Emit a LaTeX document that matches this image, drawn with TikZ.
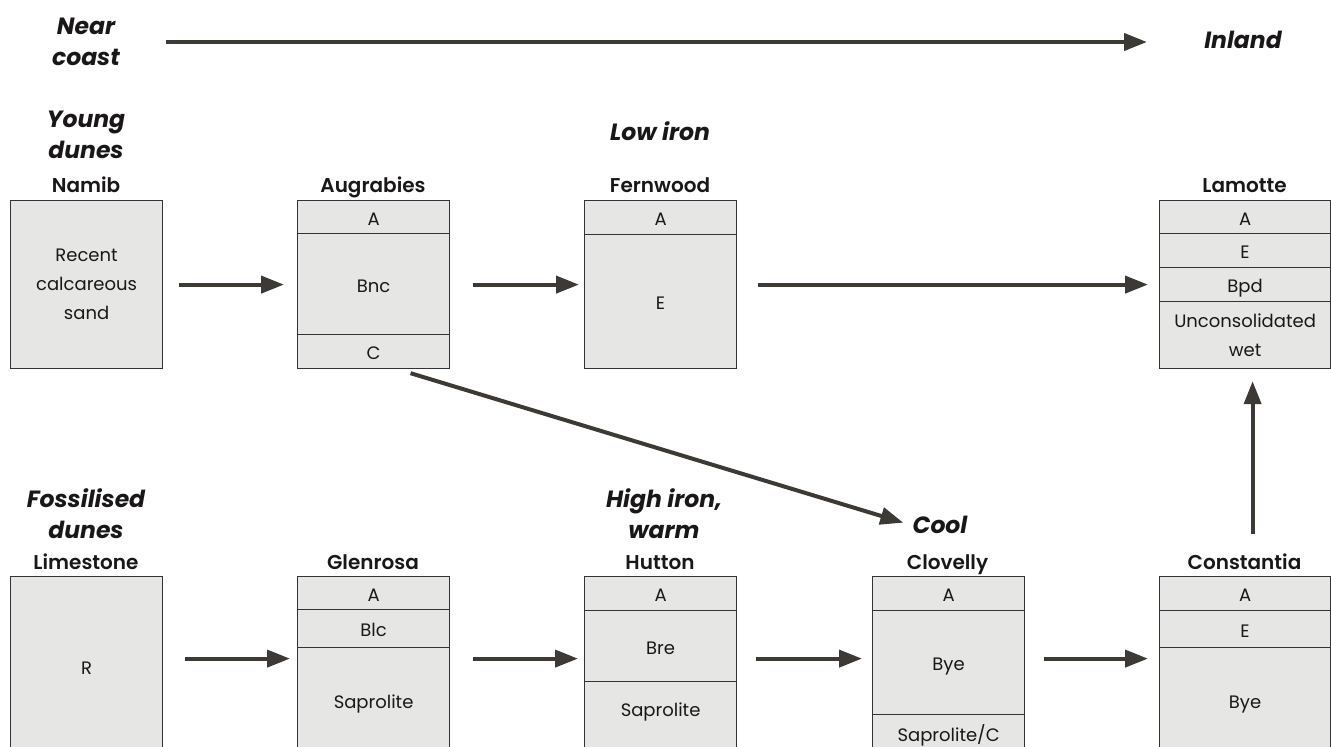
\documentclass[tikz,border=0pt]{standalone}
\usepackage{fontspec}
\setmainfont{Poppins}
\newfontfamily\namefont{Poppins SemiBold}
\usepackage{tikz}
\usetikzlibrary{arrows.meta,positioning,calc}
\definecolor{soilfill}{HTML}{E6E6E5}
\definecolor{soilline}{HTML}{333333}
\definecolor{arrowgray}{HTML}{3D3A36}
\definecolor{textdark}{HTML}{1A1717}

\begin{document}
\begin{tikzpicture}[x=1pt, y=-1pt,
        layer/.style={draw=soilline, fill=soilfill, line width=1.2pt, inner sep=0pt,
            anchor=north west, minimum width=152pt, align=center, text=textdark,
            font=\fontsize{18}{29}\selectfont},
        horizon/.style={layer, text height=16pt, text depth=0pt},
        frame/.style={draw=soilline, line width=1.2pt, inner sep=0pt,
            anchor=north west, minimum width=152pt},
        soilname/.style={font=\namefont\fontsize{20}{22}\selectfont, text=textdark, anchor=base},
        heading/.style={font=\bfseries\itshape\fontsize{23.5}{31}\selectfont, text=textdark, align=center},
        flow/.style={-{Triangle[length=23pt,width=17pt]}, line width=4pt, draw=arrowgray}]
    \useasboundingbox (0,0) rectangle (1331,747);
    \clip (0,0) rectangle (1331,747);

    % Gradient from the coast inland
    \node[heading] (nearcoast) at (86,42) {Near\\coast};
    \node[heading, anchor=base] (inland) at (1243,48) {Inland};
    \coordinate (coast-end) at (166,42);
    \coordinate (inland-end) at (1147,42);
    \draw[flow] (coast-end) -- (inland-end);

    % Young dunes (top row)
    \node[heading] (young) at (86,135) {Young\\dunes};
    \node[heading, anchor=base] (lowiron) at (660,140) {Low iron};

    \node[layer, minimum height=168pt] (namib) at (10,200) {Recent\\calcareous\\sand};
    \node[soilname] (namib-name) at (86,192) {Namib};

    \node[horizon, minimum height=33pt] (aug-a) at (297,200) {A};
    \node[horizon, minimum height=101pt] (aug-bnc) at (297,233) {Bnc};
    \node[horizon, minimum height=34pt] (aug-c) at (297,334) {C};
    \node[frame, minimum height=168pt] (augrabies) at (297,200) {};
    \node[soilname] (aug-name) at (373,192) {Augrabies};

    \node[horizon, minimum height=34pt] (fern-a) at (584,200) {A};
    \node[horizon, minimum height=134pt] (fern-e) at (584,234) {E};
    \node[frame, minimum height=168pt] (fernwood) at (584,200) {};
    \node[soilname] (fern-name) at (660,192) {Fernwood};

    \node[horizon, minimum width=171pt, minimum height=33pt] (lam-a) at (1159,200) {A};
    \node[horizon, minimum width=171pt, minimum height=34pt] (lam-e) at (1159,233) {E};
    \node[horizon, minimum width=171pt, minimum height=34pt] (lam-bpd) at (1159,267) {Bpd};
    \node[layer, minimum width=171pt, minimum height=67pt] (lam-wet) at (1159,301) {Unconsolidated\\wet};
    \node[frame, minimum width=171pt, minimum height=168pt] (lamotte) at (1159,200) {};
    \node[soilname] (lam-name) at (1244.5,192) {Lamotte};

    \draw[flow, shorten <=16pt, shorten >=13pt] (namib) -- (augrabies);
    \draw[flow, shorten <=23pt, shorten >=5pt] (augrabies) -- (fernwood);
    \draw[flow, shorten <=21pt, shorten >=11pt] (fernwood) -- (lamotte);

    % Fossilised dunes (bottom row)
    \node[heading] (fossil) at (86,514) {Fossilised\\dunes};
    \node[heading] (highiron) at (664,514) {High iron,\\warm};
    \node[heading, anchor=base] (cool) at (940,533) {Cool};

    \node[horizon, minimum height=186pt, text depth=6pt] (limestone) at (10,576) {R};
    \node[soilname] (lime-name) at (86,569) {Limestone};

    \node[horizon, minimum height=33pt] (glen-a) at (297,576) {A};
    \node[horizon, minimum height=38pt] (glen-blc) at (297,609) {Blc};
    \node[horizon, minimum height=115pt, text depth=9pt] (glen-sap) at (297,647) {Saprolite};
    \node[frame, minimum height=186pt] (glenrosa) at (297,576) {};
    \node[soilname] (glen-name) at (373,569) {Glenrosa};

    \node[horizon, minimum height=34pt] (hut-a) at (584,576) {A};
    \node[horizon, minimum height=71pt] (hut-bre) at (584,610) {Bre};
    \node[horizon, minimum height=81pt, text depth=27pt] (hut-sap) at (584,681) {Saprolite};
    \node[frame, minimum height=186pt] (hutton) at (584,576) {};
    \node[soilname] (hut-name) at (660,569) {Hutton};

    \node[horizon, minimum height=34pt] (clo-a) at (872,576) {A};
    \node[horizon, minimum height=104pt] (clo-bye) at (872,610) {Bye};
    \node[horizon, minimum height=48pt, text depth=10pt] (clo-sap) at (872,714) {Saprolite/C};
    \node[frame, minimum height=186pt] (clovelly) at (872,576) {};
    \node[soilname] (clo-name) at (947.5,569) {Clovelly};

    \node[horizon, minimum width=171pt, minimum height=34pt] (con-a) at (1159,576) {A};
    \node[horizon, minimum width=171pt, minimum height=37pt] (con-e) at (1159,610) {E};
    \node[horizon, minimum width=171pt, minimum height=115pt, text depth=9pt] (con-bye) at (1159,647) {Bye};
    \node[frame, minimum width=171pt, minimum height=186pt] (constantia) at (1159,576) {};
    \node[soilname] (con-name) at (1244.5,569) {Constantia};

    \foreach \a/\b/\s/\e in {limestone/glenrosa/22pt/7pt, glenrosa/hutton/23pt/6pt,
                             hutton/clovelly/19pt/10pt, clovelly/constantia/19pt/11pt} {
        \draw[flow, shorten <=\s, shorten >=\e] ([yshift=11pt]\a.east) -- ([yshift=11pt]\b.west);
    }

    % Cross links
    \draw[flow, shorten >=6pt] ([xshift=37pt, yshift=-4pt]augrabies.south) -- (cool.west);
    \draw[flow, shorten <=42pt, shorten >=12pt] ([xshift=7.5pt]constantia.north) -- ([xshift=7.5pt]lamotte.south);

\end{tikzpicture}
\end{document}
